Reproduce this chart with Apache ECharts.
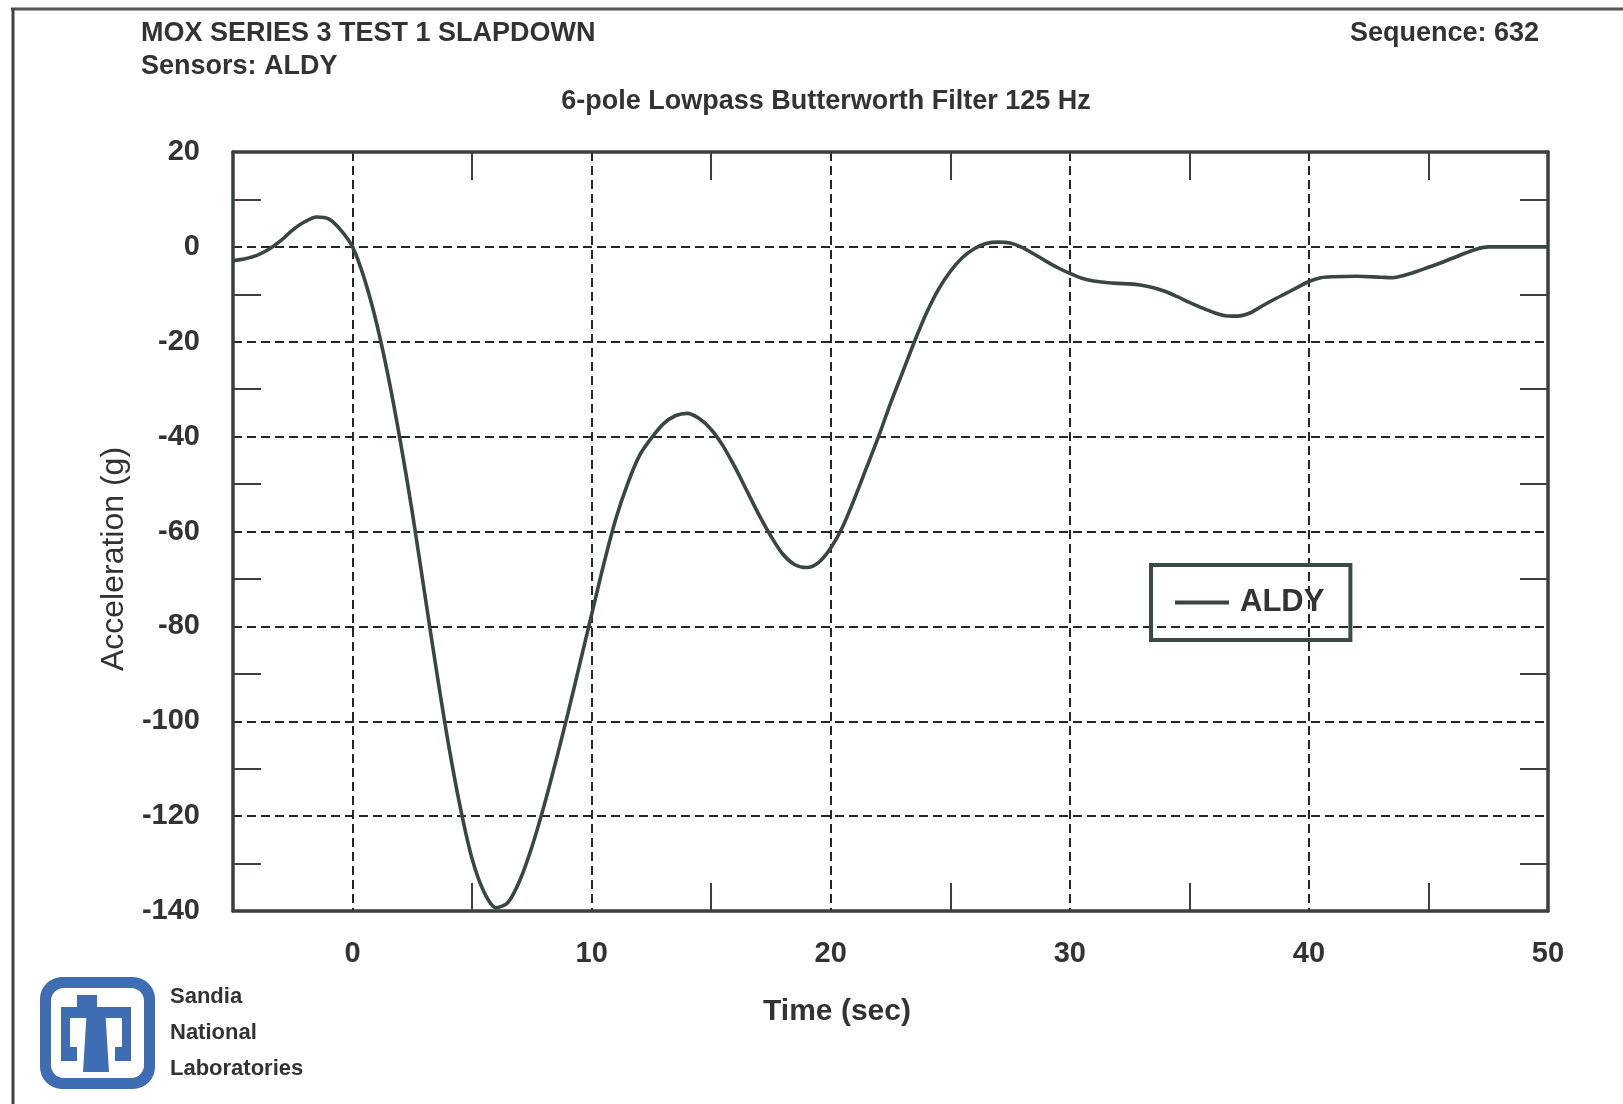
<!DOCTYPE html>
<html><head><meta charset="utf-8">
<script src="https://cdn.jsdelivr.net/npm/echarts@6/dist/echarts.min.js"></script>
<style>html,body{margin:0;padding:0;background:#fff}#c{width:1623px;height:1104px}</style>
</head><body><div id="c"></div>
<script>
// ---- data ----
const timeSec = [-5.0,-4.5,-4.0,-3.5,-3.0,-2.5,-2.0,-1.5,-1.0,-0.5,0.0,0.5,1.0,1.5,2.0,2.5,3.0,3.5,4.0,4.5,5.0,5.5,6.0,6.5,7.0,7.5,8.0,8.5,9.0,9.5,10.0,10.5,11.0,11.5,12.0,12.5,13.0,13.5,14.0,14.5,15.0,15.5,16.0,16.5,17.0,17.5,18.0,18.5,19.0,19.5,20.0,20.5,21.0,21.5,22.0,22.5,23.0,23.5,24.0,24.5,25.0,25.5,26.0,26.5,27.0,27.5,28.0,28.5,29.0,29.5,30.0,30.5,31.0,31.5,32.0,32.5,33.0,33.5,34.0,34.5,35.0,35.5,36.0,36.5,37.0,37.5,38.0,38.5,39.0,39.5,40.0,40.5,41.0,42.0,43.0,43.5,44.0,44.5,45.0,45.5,46.0,46.5,47.0,47.5,48.0,49.0,50.0];
const accelG = [-2.9,-2.5,-1.8,-0.5,1.3,3.6,5.3,6.3,5.9,3.6,0.0,-6.8,-16,-27.5,-41,-56,-72.5,-89,-104.5,-118,-129,-136,-139.3,-138.2,-133.5,-126.5,-118,-108.5,-98.5,-88,-77.5,-67,-57.5,-50,-44,-40.3,-37.3,-35.6,-35.1,-36.2,-38.5,-42,-46.5,-51.5,-56.5,-61,-64.8,-67,-67.6,-66.5,-63.5,-59,-53,-46.5,-40,-33,-26.5,-20,-14,-9,-5.2,-2.3,-0.4,0.7,1.0,0.8,-0.1,-1.5,-3.0,-4.4,-5.6,-6.6,-7.2,-7.5,-7.7,-7.8,-8.1,-8.6,-9.4,-10.5,-11.7,-12.8,-13.8,-14.5,-14.6,-14.0,-12.6,-11.2,-9.9,-8.6,-7.3,-6.5,-6.3,-6.2,-6.4,-6.5,-6.0,-5.2,-4.3,-3.4,-2.4,-1.4,-0.5,0,0,0,0];
const seriesName = 'ALDY';
const xMinorTicks = [5,15,25,35,45];
const yMinorTicks = [-130,-110,-90,-70,-50,-30,-10,10];
const titleText = 'MOX SERIES 3 TEST 1 SLAPDOWN';
const sensorsText = 'Sensors: ALDY';
const sequenceText = 'Sequence: 632';
const filterText = '6-pole Lowpass Butterworth Filter 125 Hz';
const xTitle = 'Time (sec)';
const yTitle = 'Acceleration (g)';
const orgLines = ['Sandia','National','Laboratories'];

// ---- styling ----
const FONT = '"Liberation Sans", Arial, Helvetica, sans-serif';
const TXT = '#333';
const AX = '#3a403e';
const LINE = '#3a4642';
const BLUE = '#3e6db3';
const grid = {color:'#262626', width:2, type:[9,5]};

const chart = echarts.init(document.getElementById('c'), null, {renderer:'canvas'});

function minorX(pos, showLine){
  return {type:'value', position:pos, min:-5, max:50,
    axisLine:{show:showLine, onZero:false, lineStyle:{color:AX, width:3.5}},
    axisLabel:{show:false}, splitLine:{show:false},
    axisTick:{show:true, inside:true, length:28, customValues:xMinorTicks, lineStyle:{color:AX, width:2}}};
}
function minorY(pos, showLine){
  return {type:'value', position:pos, min:-140, max:20,
    axisLine:{show:showLine, onZero:false, lineStyle:{color:AX, width:3.5}},
    axisLabel:{show:false}, splitLine:{show:false},
    axisTick:{show:true, inside:true, length:28, customValues:yMinorTicks, lineStyle:{color:AX, width:2}}};
}
const txt = (x,y,text,size,weight,align,va,rot) => ({type:'text', x, y, rotation:rot||0, silent:true,
  style:{text, fontSize:size, fontWeight:weight, fontFamily:FONT, fill:TXT, align, verticalAlign:va}});
const rect = (x1,y1,x2,y2,fill,r) => ({type:'rect', silent:true, shape:{x:x1,y:y1,width:x2-x1,height:y2-y1,r:r||0}, style:{fill}});

chart.setOption({
  animation:false,
  backgroundColor:'#fff',
  grid:{left:233, right:75, top:152, bottom:193, containLabel:false},
  xAxis:[
    {type:'value', position:'bottom', min:-5, max:50, splitNumber:5,
      axisLine:{show:true, onZero:false, lineStyle:{color:AX, width:3.5}},
      axisTick:{show:false},
      axisLabel:{showMinLabel:false, margin:28, fontSize:29, fontWeight:'bold', color:TXT, fontFamily:FONT},
      splitLine:{show:true, lineStyle:grid}},
    minorX('bottom', false),
    minorX('top', true)
  ],
  yAxis:[
    {type:'value', position:'left', min:-140, max:20, interval:20,
      axisLine:{show:true, onZero:false, lineStyle:{color:AX, width:3.5}},
      axisTick:{show:false},
      axisLabel:{margin:33, fontSize:29, fontWeight:'bold', color:TXT, fontFamily:FONT},
      splitLine:{show:true, lineStyle:grid}},
    minorY('left', false),
    minorY('right', true)
  ],
  legend:{data:[seriesName], left:1151, top:565, icon:'rect', itemWidth:54, itemHeight:4, padding:[22,26,22,24],
    borderColor:'#3c4a46', borderWidth:4, selectedMode:false, itemStyle:{color:LINE},
    textStyle:{fontSize:31, fontWeight:'bold', color:TXT, fontFamily:FONT, padding:[0,0,0,6]}},
  series:[{name:seriesName, type:'line', xAxisIndex:0, yAxisIndex:0, smooth:0.3,
    showSymbol:false, symbol:'none', lineStyle:{color:LINE, width:3.6}, itemStyle:{color:LINE},
    data: timeSec.map((t,i)=>[t, accelG[i]])}],
  graphic:[
    {type:'line', silent:true, shape:{x1:11, y1:9, x2:1623, y2:9}, style:{stroke:'#555', lineWidth:3}},
    {type:'line', silent:true, shape:{x1:13, y1:8, x2:13, y2:1104}, style:{stroke:'#444', lineWidth:3}},
    txt(141, 34, titleText, 27, 'bold', 'left', 'middle'),
    txt(141, 67, sensorsText, 27, 'bold', 'left', 'middle'),
    txt(1539, 34, sequenceText, 27, 'bold', 'right', 'middle'),
    txt(826, 102, filterText, 27, 'bold', 'center', 'middle'),
    txt(837, 1012, xTitle, 30, 'bold', 'center', 'middle'),
    txt(114, 559, yTitle, 32, 'normal', 'center', 'middle', Math.PI/2),
    txt(170, 997, orgLines[0], 22, 'bold', 'left', 'middle'),
    txt(170, 1033, orgLines[1], 22, 'bold', 'left', 'middle'),
    txt(170, 1069, orgLines[2], 22, 'bold', 'left', 'middle'),
    rect(40, 977, 155, 1089, BLUE, 22),
    rect(51, 988, 144, 1078, '#fff', 13),
    rect(77, 995, 97, 1008, BLUE),
    {type:'polygon', silent:true, shape:{points:[[87,1007],[105,1007],[109,1072],[83,1072]]}, style:{fill:BLUE}},
    rect(61, 1007, 131, 1018, BLUE),
    rect(61, 1007, 70, 1061, BLUE),
    rect(70, 1047, 77, 1061, BLUE),
    rect(122, 1007, 131, 1061, BLUE),
    rect(115, 1047, 122, 1061, BLUE)
  ]
});
</script>
</body></html>
